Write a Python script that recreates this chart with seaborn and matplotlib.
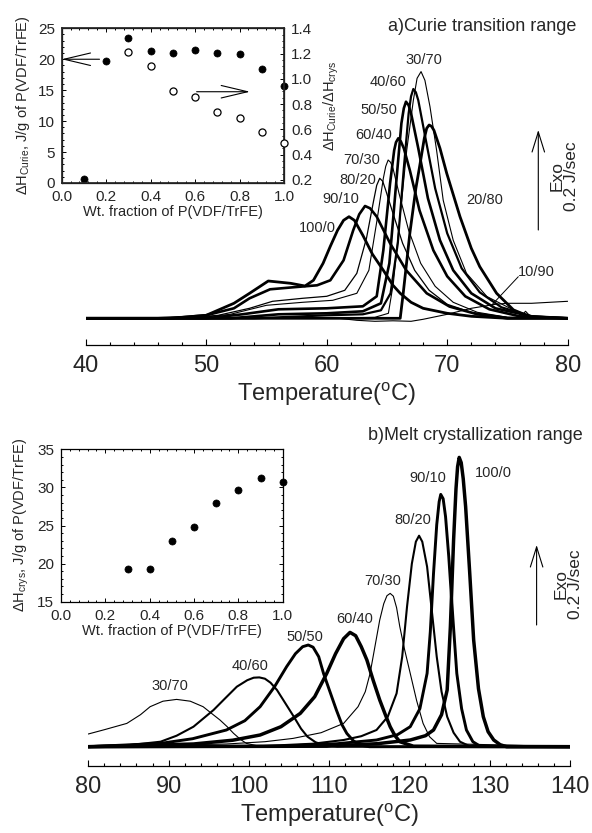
import numpy as np
import pandas as pd
import seaborn as sns
import matplotlib
matplotlib.use('Agg')
import matplotlib.pyplot as plt
from matplotlib.ticker import MultipleLocator, AutoMinorLocator

# ---- a) Curie transition range: DSC traces (temperature, heat flow a.u.) ----
a_100_0_T = [40, 46, 48, 50, 52.3, 53.6, 55.15, 57.0, 58.2, 58.9, 59.7, 60.3, 60.9, 61.4, 61.85, 62.3, 63.0, 63.8, 64.7, 65.5, 66.1, 67.0, 68.0, 70.0, 72.0, 75.0, 80]
a_100_0_h = [0, 0, 1, 3, 15, 25, 37.3, 35, 32.3, 38, 55, 72, 88, 98, 101.6, 98, 83, 64, 48, 33, 25, 16, 10, 5, 2, 0, 0]
a_90_10_T = [40, 47, 50, 52.3, 53.6, 55.3, 57.2, 59.2, 60.3, 61.4, 62.2, 62.7, 63.18, 63.6, 64.15, 65.26, 66.6, 68.3, 70.2, 72.5, 75, 80]
a_90_10_h = [0, 0, 3, 10, 20, 29, 31, 33, 38, 58, 88, 104, 112.3, 110, 101.7, 75, 48, 25, 11.7, 4, 0, 0]
a_80_20_T = [40, 48, 51, 53.6, 55.5, 58, 60, 61.5, 62.5, 63.3, 63.9, 64.15, 64.4, 64.65, 64.9, 65.5, 66.3, 67.3, 68.5, 70, 72, 75, 80]
a_80_20_h = [0, 0, 3, 10, 17, 20, 22, 28, 45, 80, 118, 133, 140, 137, 128, 105, 75, 48, 28, 14, 6, 1, 0]
a_70_30_T = [40, 49, 52, 55, 58, 60.5, 62.5, 63.5, 64.2, 64.7, 64.9, 65.1, 65.3, 65.5, 66.0, 66.8, 67.8, 69, 70.5, 72.5, 75, 80]
a_70_30_h = [0, 0, 4, 13, 16, 18, 25, 48, 100, 140, 152, 158.3, 156, 150, 125, 88, 55, 32, 16, 6, 1, 0]
a_60_40_T = [40, 50, 53, 56, 60, 63, 64.15, 64.7, 65.26, 65.6, 65.75, 65.94, 66.15, 66.4, 66.9, 67.7, 68.85, 70, 71.5, 73.5, 76, 80]
a_60_40_h = [0, 0, 4, 9, 10, 12, 22, 68, 135, 168, 176, 180, 177, 170, 148, 108, 68, 42, 22, 9, 2, 0]
a_50_50_T = [40, 52, 56, 60, 63, 64.5, 65.2, 65.8, 66.2, 66.4, 66.58, 66.8, 67.0, 67.6, 68.4, 69.4, 70.5, 72, 74, 77, 80]
a_50_50_h = [0, 0, 4, 5, 7, 15, 55, 140, 195, 210, 216.6, 213, 205, 170, 120, 78, 48, 25, 10, 2, 0]
a_40_60_T = [40, 54, 60, 63, 64.5, 65.3, 65.9, 66.4, 66.8, 67.0, 67.19, 67.4, 67.6, 68.2, 69, 70, 71.2, 72.7, 74.5, 77, 80]
a_40_60_h = [0, 0, 3, 4, 8, 25, 75, 150, 205, 222, 229.3, 226, 218, 180, 130, 85, 50, 26, 11, 2, 0]
a_30_70_T = [40, 60, 64, 65.12, 65.53, 66.09, 66.64, 67.19, 67.5, 67.83, 68.15, 68.57, 69.12, 69.67, 70.5, 71.6, 73.3, 75.5, 76.2, 76.5, 76.9, 77.7, 80]
a_30_70_h = [0, 0, 1, 5, 35, 101.7, 168, 218, 240, 246.7, 238, 211.7, 168, 118, 78, 45, 21.7, 8.3, 3, 7, 2, 1.7, 0]
a_20_80_T = [40, 62, 66.1, 66.35, 66.9, 67.4, 67.7, 68.1, 68.3, 68.5, 68.7, 68.9, 69.4, 69.96, 71.06, 72.0, 72.7, 74.1, 75.5, 77, 80]
a_20_80_h = [0, 0, 0, 25, 85, 130, 151, 180, 190, 193.3, 192, 188, 170, 145, 101.7, 70, 51.7, 25, 8.4, 1, 0]
a_10_90_T = [40, 61, 62.5, 64, 65.5, 67, 68, 70, 72, 74, 75, 77, 78.5, 80]
a_10_90_h = [0, 0, -2, -3, -2.5, -3, -1, 4, 10, 14, 15, 15, 16, 17]

# ---- b) Melt crystallization range ----
b_30_70_T = [80, 82, 84.8, 86.5, 87.7, 89.3, 91.0, 92.7, 94.3, 95.4, 96.4, 97.3, 98.1, 99.0, 99.7, 101, 104, 140]
b_30_70_h = [12.7, 17, 23.3, 32, 40, 45.5, 47.3, 45.5, 40, 33, 26.7, 20, 13.3, 7, 3.3, 1, 0, 0]
b_40_60_T = [80, 85, 89, 91, 93.1, 95.6, 97, 98.5, 99.8, 100.6, 101.3, 102.0, 102.7, 103.5, 104.5, 105.6, 106.5, 107.3, 108.3, 109.3, 111, 140]
b_40_60_h = [0.5, 1.5, 5, 11, 20, 36.7, 48, 60, 66.5, 69, 69.3, 68, 64, 56.7, 44, 30, 18, 10, 4.5, 1.7, 0, 0]
b_50_50_T = [80, 89, 93, 97.2, 99.5, 101.4, 103.2, 104.7, 105.8, 106.7, 107.4, 108.0, 108.7, 109.3, 110.1, 110.9, 111.6, 112.2, 113.0, 113.8, 115, 140]
b_50_50_h = [0, 3.3, 8, 16.7, 26, 40, 60, 80, 93, 100, 101.7, 99.5, 90, 73.3, 55, 36.7, 22, 13.3, 6, 1.7, 0, 0]
b_60_40_T = [80, 93.1, 98, 101.4, 104, 106.4, 108.2, 109.7, 110.8, 111.8, 112.6, 113.3, 114.0, 114.7, 115.5, 116.3, 117.0, 117.6, 118.2, 118.8, 120.5, 140]
b_60_40_h = [0, 2.7, 6.5, 11.7, 20, 33.3, 50, 73.3, 93, 108, 114.3, 111, 100, 86.7, 66, 46.7, 32, 20, 11, 5, 0.5, 0]
b_70_30_T = [80, 97.2, 102, 105.5, 109, 111.8, 113.6, 114.5, 115.1, 115.7, 116.3, 116.8, 117.2, 117.6, 118.0, 118.4, 118.8, 119.4, 120.1, 120.9, 121.7, 122.5, 123.4, 140]
b_70_30_h = [0, 2.7, 5, 8.3, 14, 23.3, 40, 55, 73.3, 100, 126.7, 143, 151, 153.3, 150.5, 139, 120, 97, 73.3, 46, 23.3, 10, 3.3, 0]
b_80_20_T = [80, 101.4, 108, 111.8, 114, 115.9, 117.3, 118.4, 119.1, 119.7, 120.3, 120.8, 121.2, 121.6, 122.2, 122.8, 123.4, 124.0, 124.7, 125.5, 126.3, 127.5, 140]
b_80_20_h = [0, 0.5, 3, 6.7, 10.5, 16.7, 30, 53.3, 90, 140, 183, 205, 211, 205, 180, 135, 90, 55, 30, 14, 5, 0.5, 0]
b_90_10_T = [80, 104, 111, 115.9, 118.5, 120.1, 121.3, 122.2, 122.6, 123.0, 123.4, 123.7, 123.9, 124.2, 124.5, 124.9, 125.4, 125.9, 126.5, 127.1, 127.9, 128.8, 140]
b_90_10_h = [0, 0.5, 3, 6.7, 12, 20, 38, 73.3, 115, 173.3, 222, 245, 252.3, 248, 230, 190, 130, 73.3, 38, 16.7, 5, 0.5, 0]
b_100_0_T = [80, 109.7, 116, 120.1, 122, 123.0, 124.0, 124.7, 125.1, 125.5, 125.8, 126.0, 126.2, 126.45, 126.7, 127.0, 127.5, 128.0, 128.6, 129.2, 129.8, 130.5, 131.3, 132.1, 140]
b_100_0_h = [0, 0.5, 3, 6.7, 11, 16.7, 32, 56.7, 120, 206.7, 258, 280, 289.3, 284, 268, 240, 175, 106.7, 58, 30, 15, 6.7, 2, 0, 0]

# ---- insets ----
wt_frac_a = [0.1, 0.2, 0.3, 0.4, 0.5, 0.6, 0.7, 0.8, 0.9, 1.0]
dH_curie = [0.7, 19.7, 23.4, 21.3, 21.05, 21.5, 21.0, 20.9, 18.5, 15.6]
wt_frac_ratio = [0.3, 0.4, 0.5, 0.6, 0.7, 0.8, 0.9, 1.0]
ratio_curie_crys = [1.21, 1.104, 0.906, 0.859, 0.74, 0.693, 0.582, 0.495]
wt_frac_b = [0.3, 0.4, 0.5, 0.6, 0.7, 0.8, 0.9, 1.0]
dH_crys = [19.25, 19.25, 22.97, 24.8, 28.0, 29.66, 31.27, 30.67]

sns.set_theme(style='white')
plt.rcParams['font.family'] = ['Liberation Sans', 'DejaVu Sans']
plt.rcParams['mathtext.fontset'] = 'custom'
plt.rcParams['mathtext.rm'] = 'Liberation Sans'
plt.rcParams['mathtext.it'] = 'Liberation Sans:italic'
plt.rcParams['mathtext.bf'] = 'Liberation Sans:bold'

fig = plt.figure(figsize=(5.92, 8.33), dpi=100)
fig.patch.set_facecolor('white')


def draw_curves(ax, curves):
    for T, h, lw in curves:
        df = pd.DataFrame({'T': T, 'h': h})
        sns.lineplot(data=df, x='T', y='h', ax=ax, color='black', lw=lw,
                     sort=False, estimator=None, solid_joinstyle='round')


def style_main(ax, major_step):
    for s in ['left', 'right', 'top']:
        ax.spines[s].set_visible(False)
    ax.spines['bottom'].set_linewidth(0.9)
    ax.spines['bottom'].set_color('black')
    ax.set_yticks([])
    ax.set_ylabel('')
    ax.xaxis.set_major_locator(MultipleLocator(major_step))
    ax.xaxis.set_minor_locator(MultipleLocator(2))
    ax.tick_params(axis='x', which='major', direction='in', length=4, width=0.8,
                   labelsize=17, pad=7, color='black', bottom=True)
    ax.tick_params(axis='x', which='minor', direction='in', length=2.5, width=0.8,
                   color='black', bottom=True)
    ax.set_xlabel('Temperature($^{\\rm o}$C)', fontsize=17, labelpad=3)
    ax.patch.set_alpha(0)


def style_inset(ax):
    for s in ax.spines.values():
        s.set_linewidth(0.9)
        s.set_color('black')
    ax.set_xlim(0, 1.0)
    ax.xaxis.set_major_locator(MultipleLocator(0.2))
    ax.xaxis.set_minor_locator(AutoMinorLocator(5))
    ax.yaxis.set_minor_locator(AutoMinorLocator(5))
    ax.tick_params(which='both', direction='in', top=True, bottom=True, left=True,
                   labelsize=11, pad=5, color='black', width=0.7)
    ax.tick_params(which='major', length=3)
    ax.tick_params(which='minor', length=1.5)
    ax.xaxis.set_major_formatter(plt.FuncFormatter(lambda v, p: f'{v:.1f}'))
    ax.set_xlabel('Wt. fraction of P(VDF/TrFE)', fontsize=10.5, labelpad=1)


def exo_marker(ax, x_arrow, y0, y1, x_text, y_text):
    ax.annotate('', xy=(x_arrow, y1), xytext=(x_arrow, y0),
                arrowprops=dict(arrowstyle='->,head_length=1.45,head_width=0.45', lw=0.8,
                                color='black', shrinkA=0, shrinkB=0, mutation_scale=10))
    ax.text(x_text, y_text, 'Exo\n0.2 J/sec', rotation=90, fontsize=12.5, ha='center',
            va='center', multialignment='center', linespacing=0.95)


# ================= panel a =================
ax_a = fig.add_axes([85.7 / 592, 1 - 345 / 833, 482 / 592, 325 / 833])
curves_a = [
    (a_10_90_T, a_10_90_h, 0.8),
    (a_30_70_T, a_30_70_h, 0.8),
    (a_70_30_T, a_70_30_h, 0.8),
    (a_80_20_T, a_80_20_h, 0.9),
    (a_100_0_T, a_100_0_h, 2.0),
    (a_90_10_T, a_90_10_h, 1.9),
    (a_60_40_T, a_60_40_h, 1.9),
    (a_50_50_T, a_50_50_h, 1.9),
    (a_40_60_T, a_40_60_h, 1.6),
    (a_20_80_T, a_20_80_h, 2.0),
]
draw_curves(ax_a, curves_a)
ax_a.set_xlim(40, 80)
ax_a.set_ylim(-26.7, 298.3)
style_main(ax_a, 10)

labels_a = [('30/70', 68.1, 258), ('40/60', 65.1, 236.6), ('50/50', 64.3, 208),
            ('60/40', 63.9, 183), ('70/30', 62.9, 158), ('80/20', 62.6, 138),
            ('90/10', 61.2, 119), ('100/0', 59.2, 90), ('20/80', 73.1, 118),
            ('10/90', 77.4, 46.6)]
for txt, x, y in labels_a:
    ax_a.text(x, y, txt, fontsize=10.5, ha='center', va='center')
ax_a.annotate('', xy=(73.7, 13.3), xytext=(75.9, 41.6),
              arrowprops=dict(arrowstyle='-', lw=0.7, color='black', shrinkA=0, shrinkB=0))
ax_a.text(80.7, 291.6, 'a)Curie transition range', fontsize=13, ha='right', va='center')
exo_marker(ax_a, 77.56, 88.3, 188.3, 79.75, 142)

# inset a
ins_a = fig.add_axes([61.7 / 592, 1 - 183 / 833, 222.3 / 592, 154.7 / 833])
ins_a.set_facecolor('white')
sns.scatterplot(x=wt_frac_a, y=dH_curie, ax=ins_a, color='black', s=26,
                edgecolor='black', linewidth=0.5, clip_on=False, zorder=5)
ins_a.set_ylim(0, 25)
ins_a.yaxis.set_major_locator(MultipleLocator(5))
style_inset(ins_a)
ins_a.tick_params(right=False)
ins_a.set_ylabel('ΔH$_{\\rm Curie}$, J/g of P(VDF/TrFE)', fontsize=10.5, labelpad=4)
ins_a.annotate('', xy=(0.0, 20), xytext=(0.17, 20),
               arrowprops=dict(arrowstyle='->,head_length=1.9,head_width=0.45', lw=0.8,
                               color='black', shrinkA=0, shrinkB=0, mutation_scale=10))
ins_a.annotate('', xy=(0.847, 14.75), xytext=(0.607, 14.75),
               arrowprops=dict(arrowstyle='->,head_length=1.9,head_width=0.45', lw=0.8,
                               color='black', shrinkA=0, shrinkB=0, mutation_scale=10))

ins_a2 = ins_a.twinx()
sns.scatterplot(x=wt_frac_ratio, y=ratio_curie_crys, ax=ins_a2, color='white', s=26,
                edgecolor='black', linewidth=0.9, clip_on=False, zorder=5)
ins_a2.set_ylim(0.176, 1.4)
ins_a2.yaxis.set_major_locator(MultipleLocator(0.2))
ins_a2.yaxis.set_minor_locator(AutoMinorLocator(4))
ins_a2.yaxis.set_major_formatter(plt.FuncFormatter(lambda v, p: f'{v:.1f}'))
ins_a2.tick_params(which='both', direction='in', right=True, labelsize=11, pad=5,
                   color='black', width=0.7)
ins_a2.tick_params(which='major', length=3)
ins_a2.tick_params(which='minor', length=1.5)
ins_a2.set_ylabel('ΔH$_{\\rm Curie}$/ΔH$_{\\rm crys}$', fontsize=10.5, labelpad=7)
ins_a2.grid(False)
ins_a.grid(False)

# ================= panel b =================
ax_b = fig.add_axes([88.3 / 592, 1 - 766 / 833, 481.7 / 592, 326 / 833])
curves_b = [
    (b_30_70_T, b_30_70_h, 0.8),
    (b_70_30_T, b_70_30_h, 0.8),
    (b_40_60_T, b_40_60_h, 1.5),
    (b_80_20_T, b_80_20_h, 1.5),
    (b_50_50_T, b_50_50_h, 2.1),
    (b_90_10_T, b_90_10_h, 2.1),
    (b_60_40_T, b_60_40_h, 2.5),
    (b_100_0_T, b_100_0_h, 2.5),
]
draw_curves(ax_b, curves_b)
ax_b.set_xlim(80, 140)
ax_b.set_ylim(-19.3, 306.7)
style_main(ax_b, 10)

labels_b = [('30/70', 90.17, 60.7), ('40/60', 100.14, 80.7), ('50/50', 106.99, 109.7),
            ('60/40', 113.2, 127.7), ('70/30', 116.7, 165.7), ('80/20', 120.4, 226.7),
            ('90/10', 122.3, 268.7), ('100/0', 130.4, 273.7)]
for txt, x, y in labels_b:
    ax_b.text(x, y, txt, fontsize=10.5, ha='center', va='center')
ax_b.text(141.6, 311.7, 'b)Melt crystallization range', fontsize=13, ha='right', va='center')
exo_marker(ax_b, 135.84, 121.7, 201.7, 139.75, 163)

# inset b
ins_b = fig.add_axes([61 / 592, 1 - 601.7 / 833, 221.7 / 592, 152.4 / 833])
ins_b.set_facecolor('white')
sns.scatterplot(x=wt_frac_b, y=dH_crys, ax=ins_b, color='black', s=26,
                edgecolor='black', linewidth=0.5, clip_on=False, zorder=5)
ins_b.set_ylim(15, 35)
ins_b.yaxis.set_major_locator(MultipleLocator(5))
style_inset(ins_b)
ins_b.tick_params(which='both', right=True)
ins_b.set_ylabel('ΔH$_{\\rm crys}$, J/g of P(VDF/TrFE)', fontsize=10.5, labelpad=4)
ins_b.grid(False)

fig.savefig('out.png', dpi=100)
